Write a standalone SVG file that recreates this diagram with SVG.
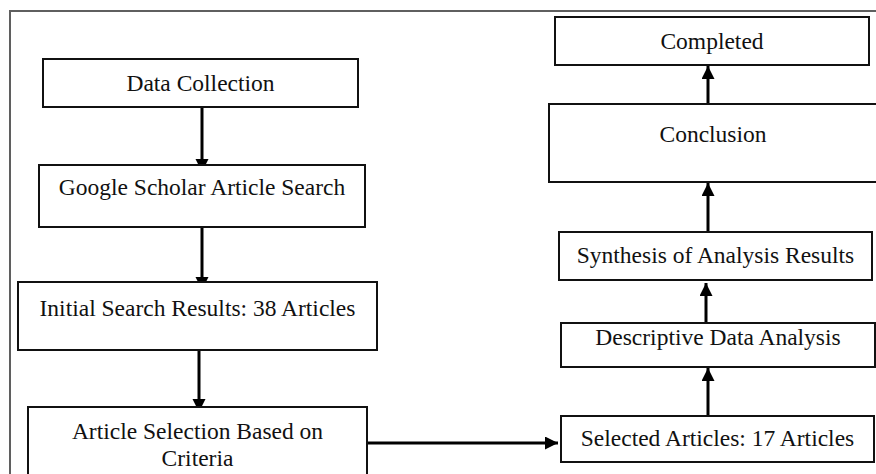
<svg xmlns="http://www.w3.org/2000/svg" width="876" height="474" viewBox="0 0 876 474">
  <style>
    .box { fill: #ffffff; stroke: #111111; stroke-width: 2; }
    .lbl { font-family: "Liberation Serif", "Times New Roman", serif; font-size: 23.5px; fill: #111111; text-anchor: middle; }
    .con { stroke: #000000; stroke-width: 3; fill: none; }
    .frame { stroke: #5f5f5f; stroke-width: 2; fill: none; }
  </style>
  <defs>
    <marker id="ah" markerUnits="userSpaceOnUse" markerWidth="14" markerHeight="14" refX="13" refY="6.5" orient="auto">
      <path d="M0,0 L13,6.5 L0,13 Z" fill="#000000"/>
    </marker>
  </defs>
  <rect width="876" height="474" fill="#ffffff"/>
  <path class="frame" d="M10,474 L10,11 L876,11"/>

  <g id="connectors">
    <line class="con" x1="202" y1="107" x2="202" y2="172" marker-end="url(#ah)"/>
    <line class="con" x1="202" y1="227" x2="202" y2="290" marker-end="url(#ah)"/>
    <line class="con" x1="199" y1="350" x2="199" y2="412" marker-end="url(#ah)"/>
    <line class="con" x1="367" y1="443" x2="558" y2="443" marker-end="url(#ah)"/>
    <line class="con" x1="708" y1="416" x2="708" y2="368" marker-end="url(#ah)"/>
    <line class="con" x1="706" y1="323" x2="706" y2="283" marker-end="url(#ah)"/>
    <line class="con" x1="708" y1="232" x2="708" y2="183" marker-end="url(#ah)"/>
    <line class="con" x1="708" y1="104" x2="708" y2="66" marker-end="url(#ah)"/>
  </g>

  <g id="data-collection">
    <rect class="box" x="43" y="59" width="315" height="48"/>
    <text class="lbl" x="200.5" y="91">Data Collection</text>
  </g>
  <g id="google-scholar">
    <rect class="box" x="39" y="165" width="326" height="62"/>
    <text class="lbl" x="202" y="195">Google Scholar Article Search</text>
  </g>
  <g id="initial-search">
    <rect class="box" x="18" y="282" width="359" height="68"/>
    <text class="lbl" x="197.5" y="316">Initial Search Results: 38 Articles</text>
  </g>
  <g id="article-selection">
    <rect class="box" x="28" y="407" width="339" height="80"/>
    <text class="lbl" x="197.5" y="439">Article Selection Based on</text>
    <text class="lbl" x="197.5" y="466">Criteria</text>
  </g>
  <g id="completed">
    <rect class="box" x="555" y="17" width="314" height="48"/>
    <text class="lbl" x="712" y="49">Completed</text>
  </g>
  <g id="conclusion">
    <rect class="box" x="549" y="104" width="340" height="78"/>
    <text class="lbl" x="713" y="142">Conclusion</text>
  </g>
  <g id="synthesis">
    <rect class="box" x="559" y="232" width="313" height="48"/>
    <text class="lbl" x="715.5" y="263">Synthesis of Analysis Results</text>
  </g>
  <g id="descriptive">
    <rect class="box" x="561" y="323" width="314" height="44"/>
    <text class="lbl" x="718" y="345">Descriptive Data Analysis</text>
  </g>
  <g id="selected">
    <rect class="box" x="561" y="416" width="313" height="46"/>
    <text class="lbl" x="717.5" y="446">Selected Articles: 17 Articles</text>
  </g>
</svg>
